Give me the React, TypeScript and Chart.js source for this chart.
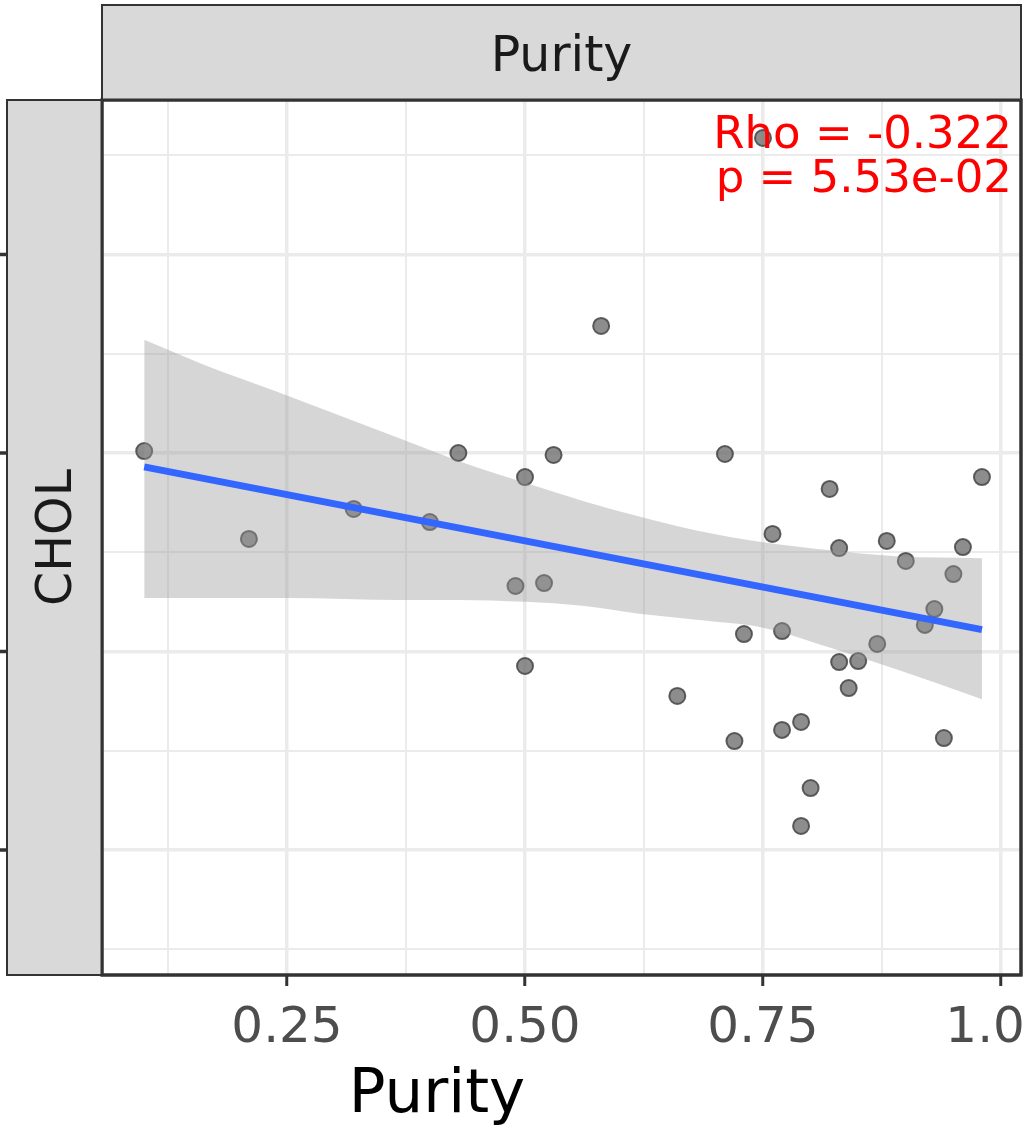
import React, { useEffect, useRef } from 'react';
import { Chart, registerables } from 'chart.js';

Chart.register(...registerables);

// ---- data ----
const purity = [0.10, 0.21, 0.32, 0.40, 0.43, 0.49, 0.50, 0.50, 0.52, 0.53, 0.58, 0.66, 0.71, 0.72, 0.73, 0.75, 0.76, 0.77, 0.77, 0.79, 0.80, 0.79, 0.82, 0.83, 0.83, 0.84, 0.85, 0.87, 0.88, 0.90, 0.92, 0.93, 0.94, 0.95, 0.96, 0.98];
const chol = [2.01, 1.567, 1.718, 1.652, 2.0, 1.33, 1.879, 0.927, 1.345, 1.99, 2.64, 0.776, 1.995, 0.549, 1.088, 3.587, 1.592, 1.103, 0.605, 0.645, 0.312, 0.121, 1.819, 1.521, 0.947, 0.816, 0.952, 1.038, 1.557, 1.456, 1.134, 1.214, 0.564, 1.39, 1.526, 1.879];

const fitX = [0.10, 0.98];
const fitY = [1.93, 1.11];

const bandX = [0.10, 0.16, 0.25, 0.37, 0.43, 0.50, 0.56, 0.62, 0.68, 0.75, 0.82, 0.89, 0.98];
const bandUpper = [2.57, 2.45, 2.29, 2.07, 1.96, 1.85, 1.76, 1.68, 1.61, 1.55, 1.51, 1.48, 1.47];
const bandLower = [1.27, 1.27, 1.27, 1.26, 1.26, 1.25, 1.23, 1.19, 1.16, 1.12, 1.02, 0.91, 0.76];

const xMajorTicks = [0.25, 0.5, 0.75, 1.0];
const xMajorLabels = ['0.25', '0.50', '0.75', '1.00'];
const xMinorTicks = [0.125, 0.375, 0.625, 0.875];
const yMajorTicks = [0, 1, 2, 3];
const yMinorTicks = [-0.5, 0.5, 1.5, 2.5, 3.5];

const stripTopLabel = 'Purity';
const stripLeftLabel = 'CHOL';
const xTitle = 'Purity';
const statLines = ['Rho = -0.322', 'p = 5.53e-02'];

const FONT = '"DejaVu Sans", Verdana, sans-serif';

const inList = (v: any, list: number[]) =>
  typeof v === 'number' && list.some((m) => Math.abs(m - v) < 1e-9);

const decorPlugin = {
  id: 'decor',
  afterDatasetsDraw(chart: any) {
    const { ctx, chartArea } = chart;
    ctx.save();
    ctx.fillStyle = '#ff0000';
    ctx.font = `45px ${FONT}`;
    ctx.textAlign = 'right';
    ctx.textBaseline = 'alphabetic';
    ctx.fillText(statLines[0], 1012, 148);
    ctx.fillText(statLines[1], 1012, 192);
    ctx.strokeStyle = '#333333';
    ctx.lineWidth = 3;
    ctx.strokeRect(chartArea.left, chartArea.top, chartArea.right - chartArea.left, chartArea.bottom - chartArea.top);
    ctx.restore();
  },
  afterDraw(chart: any) {
    const { ctx, chartArea, scales } = chart;
    ctx.save();
    ctx.fillStyle = '#d9d9d9';
    ctx.strokeStyle = '#333333';
    ctx.lineWidth = 2;
    const tx = chartArea.left, ty = 5, tw = chartArea.right - chartArea.left, th = chartArea.top - 5;
    ctx.fillRect(tx, ty, tw, th);
    ctx.strokeRect(tx, ty, tw, th);
    const lx = 7, ly = chartArea.top, lw = chartArea.left - 7, lh = chartArea.bottom - chartArea.top;
    ctx.fillRect(lx, ly, lw, lh);
    ctx.strokeRect(lx, ly, lw, lh);
    ctx.lineWidth = 3;
    ctx.strokeRect(chartArea.left, chartArea.top, chartArea.right - chartArea.left, chartArea.bottom - chartArea.top);

    // strip labels
    ctx.fillStyle = '#1a1a1a';
    ctx.font = `49px ${FONT}`;
    ctx.textAlign = 'center';
    ctx.textBaseline = 'alphabetic';
    ctx.fillText(stripTopLabel, (chartArea.left + chartArea.right) / 2, 71);
    ctx.save();
    ctx.translate(53.5, (chartArea.top + chartArea.bottom) / 2);
    ctx.rotate(-Math.PI / 2);
    ctx.fillText(stripLeftLabel, 0, 17.9);
    ctx.restore();

    // y tick marks (outside the left strip)
    ctx.strokeStyle = '#333333';
    ctx.lineWidth = 3.5;
    yMajorTicks.forEach((v) => {
      const py = scales.y.getPixelForValue(v);
      ctx.beginPath();
      ctx.moveTo(0, py);
      ctx.lineTo(7, py);
      ctx.stroke();
    });

    // x tick labels at the x scale's positions
    ctx.fillStyle = '#4d4d4d';
    ctx.font = `50px ${FONT}`;
    ctx.textAlign = 'center';
    xMajorTicks.forEach((v, i) => {
      ctx.fillText(xMajorLabels[i], scales.x.getPixelForValue(v), 1042);
    });

    // x axis title
    ctx.fillStyle = '#000000';
    ctx.font = `61px ${FONT}`;
    ctx.fillText(xTitle, 437, 1112);
    ctx.restore();
  },
};

export default function App() {
  const ref = useRef<HTMLCanvasElement>(null);

  useEffect(() => {
    if (!ref.current) return;
    const chart = new Chart(ref.current, {
      type: 'scatter',
      data: {
        datasets: [
          {
            type: 'line',
            label: 'fit',
            data: fitX.map((x, i) => ({ x, y: fitY[i] })),
            borderColor: '#3366ff',
            borderWidth: 7,
            pointRadius: 0,
            fill: false,
            tension: 0,
            order: 0,
          } as any,
          {
            type: 'line',
            label: 'upper',
            data: bandX.map((x, i) => ({ x, y: bandUpper[i] })),
            borderColor: 'rgba(0,0,0,0)',
            borderWidth: 1,
            pointRadius: 0,
            fill: '+1',
            backgroundColor: 'rgba(153,153,153,0.4)',
            cubicInterpolationMode: 'monotone',
            order: 1,
          } as any,
          {
            type: 'line',
            label: 'lower',
            data: bandX.map((x, i) => ({ x, y: bandLower[i] })),
            borderColor: 'rgba(0,0,0,0)',
            borderWidth: 1,
            pointRadius: 0,
            fill: false,
            cubicInterpolationMode: 'monotone',
            order: 2,
          } as any,
          {
            type: 'scatter',
            label: 'CHOL',
            data: purity.map((x, i) => ({ x, y: chol[i] })),
            pointRadius: 8,
            pointHoverRadius: 8,
            backgroundColor: 'rgba(112,112,112,0.8)',
            borderColor: 'rgba(70,70,70,0.85)',
            borderWidth: 2,
            order: 3,
          } as any,
        ],
      },
      options: {
        animation: false,
        responsive: false,
        devicePixelRatio: 1,
        layout: { autoPadding: false, padding: { top: 100, right: 6, left: 0, bottom: 0 } },
        plugins: {
          legend: { display: false },
          tooltip: { enabled: false },
          filler: { propagate: false },
        },
        scales: {
          x: {
            type: 'linear',
            min: 0.05567,
            max: 1.02101,
            afterBuildTicks: (s: any) => {
              s.ticks = [...xMinorTicks, ...xMajorTicks].sort((a, b) => a - b).map((v) => ({ value: v }));
            },
            afterFit: (s: any) => {
              s.height = 153;
              s.paddingLeft = 0;
              s.paddingRight = 0;
            },
            border: { display: false },
            grid: {
              color: '#ebebeb',
              lineWidth: (c: any) => (inList(c.tick?.value, xMinorTicks) ? 2 : 3.5),
              tickColor: (c: any) => (inList(c.tick?.value, xMinorTicks) ? 'rgba(0,0,0,0)' : '#333333'),
              tickLength: 11,
              tickWidth: 3,
              drawTicks: true,
            },
            ticks: { display: false },
          },
          y: {
            type: 'linear',
            min: -0.6297,
            max: 3.7783,
            afterBuildTicks: (s: any) => {
              s.ticks = [...yMinorTicks, ...yMajorTicks].sort((a, b) => a - b).map((v) => ({ value: v }));
            },
            afterFit: (s: any) => {
              s.width = 102;
              s.paddingTop = 0;
              s.paddingBottom = 0;
            },
            border: { display: false },
            grid: {
              color: '#ebebeb',
              lineWidth: (c: any) => (inList(c.tick?.value, yMinorTicks) ? 2 : 3.5),
              drawTicks: false,
            },
            ticks: { display: false },
          },
        },
      },
      plugins: [decorPlugin],
    } as any);
    return () => chart.destroy();
  }, []);

  return (
    <div style={{ position: 'absolute', left: 0, top: 0, width: 1027, height: 1128, background: '#ffffff' }}>
      <canvas ref={ref} width={1027} height={1128} style={{ display: 'block' }} />
    </div>
  );
}
